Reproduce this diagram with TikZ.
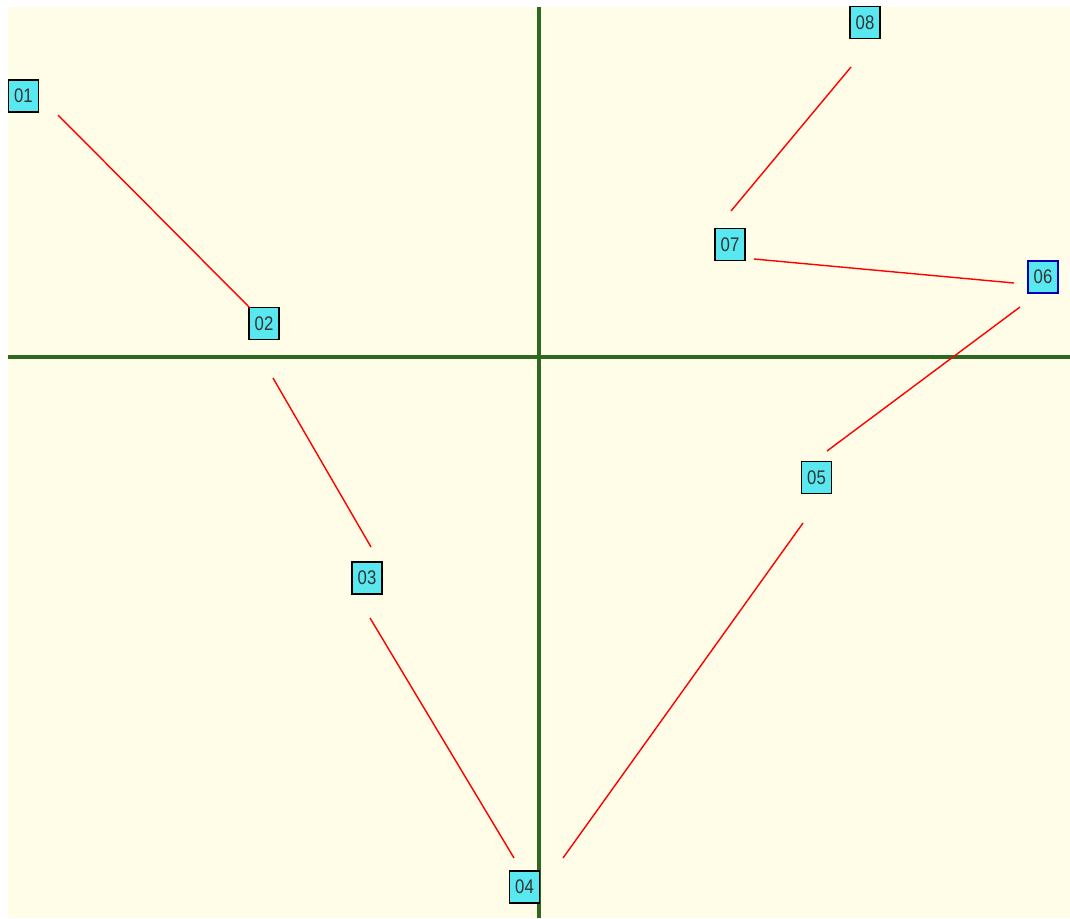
\documentclass[tikz,border=0pt]{standalone}
\usepackage{fontspec}
\setmainfont{Liberation Sans}
\newfontfamily\labelfont[FakeStretch=0.85]{Liberation Sans}
\definecolor{paper}{RGB}{255,253,231}
\definecolor{axisgreen}{RGB}{46,104,30}
\definecolor{boxcyan}{RGB}{90,232,240}
\begin{document}
\begin{tikzpicture}[x=0.25mm,y=-0.25mm,
  pt/.style={draw=black,line width=1.1pt,fill=boxcyan,minimum width=7.6mm,minimum height=8.1mm,
    inner sep=0pt,font=\labelfont\fontsize{14}{16}\selectfont\color{black!80}},
  sel/.style={pt,draw=blue!70!black,line width=1.6pt},
  link/.style={red,line width=1pt}]
  \useasboundingbox (0,0) rectangle (1070,918);
  \fill[paper] (8,7) rectangle (1070,918);
  % axes
  \draw[axisgreen,line width=2.3pt] (539,7)--(539,918);
  \draw[axisgreen,line width=2.3pt] (8,357)--(1070,357);
  % points
  \node[pt] (p1) at (23.5,96) {01};
  \node[pt] (p2) at (264,323.5) {02};
  \node[pt] (p3) at (367,578) {03};
  \node[pt] (p4) at (524.5,887) {04};
  \node[pt] (p5) at (816.5,477.5) {05};
  \node[sel] (p6) at (1043,277) {06};
  \node[pt] (p7) at (730,244.5) {07};
  \node[pt] (p8) at (865,22.5) {08};
  % segment ends
  \coordinate (a12) at (58,115);  \coordinate (b12) at (250,308);
  \coordinate (a23) at (273,378); \coordinate (b23) at (371,547);
  \coordinate (a34) at (370,618); \coordinate (b34) at (514,858);
  \coordinate (a45) at (563,858); \coordinate (b45) at (803,523);
  \coordinate (a56) at (827,451); \coordinate (b56) at (1020,307);
  \coordinate (a67) at (1014,283); \coordinate (b67) at (754,259);
  \coordinate (a78) at (731,211); \coordinate (b78) at (851,67);
  \draw[link] (a12)--(b12);
  \draw[link] (a23)--(b23);
  \draw[link] (a34)--(b34);
  \draw[link] (a45)--(b45);
  \draw[link] (a56)--(b56);
  \draw[link] (a67)--(b67);
  \draw[link] (a78)--(b78);
\end{tikzpicture}
\end{document}
